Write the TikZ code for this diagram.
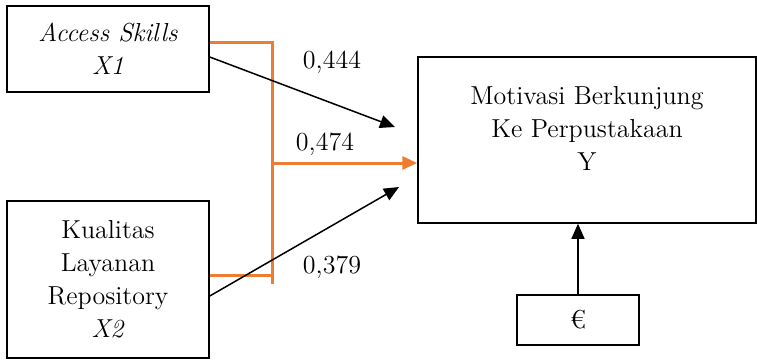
\documentclass[tikz,border=0pt]{standalone}
\usetikzlibrary{arrows.meta}
\usetikzlibrary{calc}
\definecolor{pathorange}{RGB}{237,125,49}

\tikzset{
	varbox/.style={draw, line width=0.75pt, align=center, inner sep=0pt,
		font=\fontsize{13}{16.5}\selectfont},
	coef/.style={font=\fontsize{13}{15}\selectfont, inner sep=0pt},
	path/.style={line width=0.75pt, -{Triangle[length=7.5pt, width=6.5pt]}},
	joint/.style={pathorange, line width=1.5pt}
}

\newcommand{\varbox}[6] % name, x in px, y in px, width in px, height in px, text
{
	\node[varbox, minimum width=#4*0.5pt, minimum height=#5*0.5pt] (#1) at (#2,#3) {#6};
}

\begin{document}
\begin{tikzpicture}[x=0.5pt, y=-0.5pt]
	% 757px x 360px, y runs downwards
	\useasboundingbox (0,0) rectangle (757,360);

	\varbox{x1}{108}{49}{202}{86}{\textit{Access Skills}\\\textit{X1}}
	\varbox{x2}{108}{279.5}{202}{157}{Kualitas\\Layanan\\Repository\\\textit{X2}}
	\varbox{y}{587}{140}{338}{166}{Motivasi Berkunjung\\Ke Perpustakaan\\Y\\[-9.5pt]\strut}
	\varbox{e}{578}{320}{122}{50}{\texteuro}

	% free ends of the single paths
	\coordinate (t1) at (395,127);
	\coordinate (t2) at (399,187);
	\coordinate (j) at (272,163);

	% joint path X1 + X2 -> Y
	\draw[joint] ([yshift=3.5pt]x1.east) -| ([yshift=-2.25pt]x2.east -| j);
	\draw[joint] ([yshift=2.25pt]x2.east) -- ([yshift=2.25pt]x2.east -| j);
	\draw[joint, -{Triangle[length=7.5pt, width=6.5pt]}] (j) -- (j -| y.west);

	% single paths
	\draw[path] ([yshift=-4pt]x1.east) -- (t1);
	\draw[path] ([yshift=-8.25pt]x2.east) -- (t2);
	\draw[path] (e.north) -- (e.north |- y.south);

	\node[coef] (c1) at (332,62) {0,444};
	\node[coef] (c2) at (325,144) {0,474};
	\node[coef] (c3) at (332,267) {0,379};
\end{tikzpicture}
\end{document}
